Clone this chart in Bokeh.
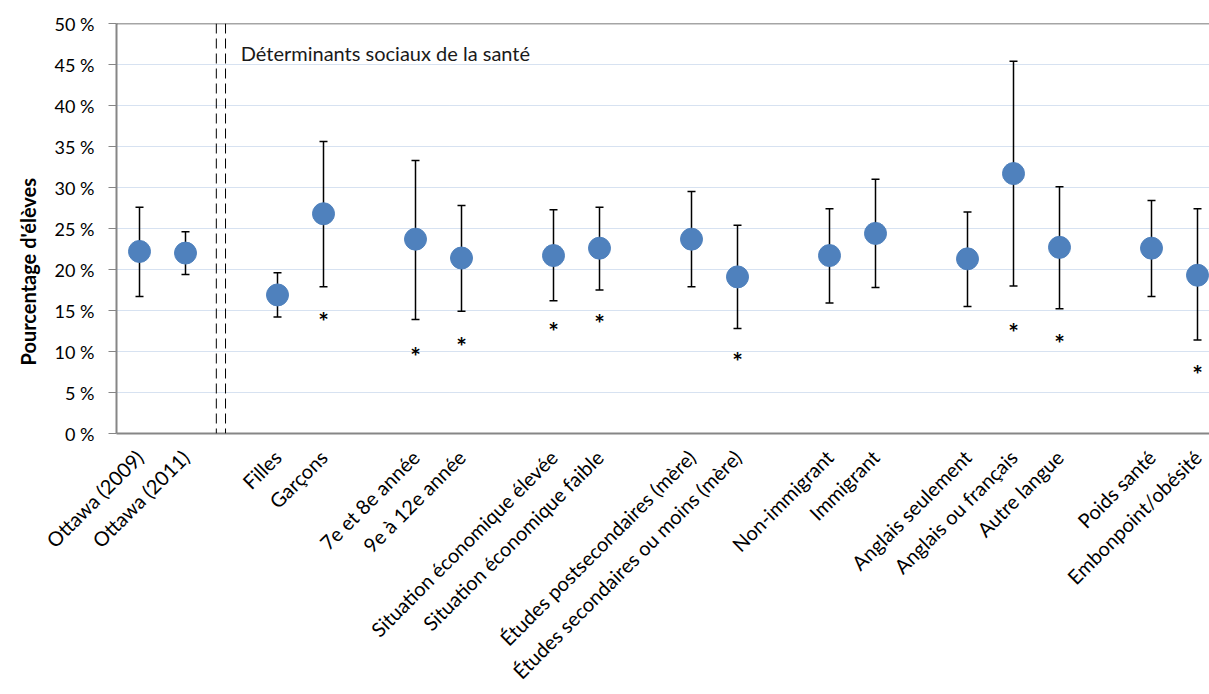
from math import pi
from bokeh.plotting import figure
from bokeh.models import (ColumnDataSource, Whisker, TeeHead, Span, FixedTicker,
                          PrintfTickFormatter, Label, Title)
from bokeh.embed import file_html
from bokeh.resources import INLINE
from bokeh.core.properties import value

# ---- data ----
groups = [
    ["Ottawa (2009)", "Ottawa (2011)"],
    ["Filles", "Garçons"],
    ["7e et 8e année", "9e à 12e année"],
    ["Situation économique élevée", "Situation économique faible"],
    ["Études postsecondaires (mère)", "Études secondaires ou moins (mère)"],
    ["Non-immigrant", "Immigrant"],
    ["Anglais seulement", "Anglais ou français", "Autre langue"],
    ["Poids santé", "Embonpoint/obésité"],
]
estimate = [22.2, 22.0, 16.9, 26.8, 23.7, 21.4, 21.7, 22.6, 23.7, 19.1,
            21.7, 24.4, 21.3, 31.7, 22.7, 22.6, 19.3]
upper = [27.6, 24.6, 19.6, 35.6, 33.3, 27.8, 27.3, 27.6, 29.5, 25.4,
         27.4, 31.0, 27.0, 45.4, 30.1, 28.4, 27.4]
lower = [16.7, 19.4, 14.2, 17.9, 13.9, 14.9, 16.2, 17.5, 17.9, 12.8,
         15.9, 17.8, 15.5, 18.0, 15.2, 16.7, 11.4]
star_y = [None, None, None, 14.6, 10.3, 11.5, 13.3, 14.3, None, 9.7,
          None, None, None, 13.2, 11.9, None, 8.1]
y_ticks = list(range(0, 51, 5))
section_title = "Déterminants sociaux de la santé"
y_title = "Pourcentage d'élèves"

# ---- layout constants ----
FONT = "Lato"
BLUE = "#4F81BD"
SLOT_PX = 46
FRAME_LEFT = 116
FRAME_W = 1093

# ---- slot positions: one empty slot between groups ----
names, xs = [], []
slot = 0
for g in groups:
    for n in g:
        names.append(n)
        xs.append(slot + 0.5)
        slot += 1
    slot += 1

p = figure(frame_width=FRAME_W, frame_height=410, x_range=(0, FRAME_W / SLOT_PX), y_range=(0, 50),
           output_backend="svg", toolbar_location=None,
           min_border_left=FRAME_LEFT, min_border_top=23, min_border_right=0, min_border_bottom=0)
p.outline_line_color = None
p.background_fill_color = "white"
p.border_fill_color = "white"

p.xgrid.visible = False
p.ygrid.grid_line_color = "#AFC5E3"
p.ygrid.grid_line_dash = "1 1"
p.ygrid.grid_line_width = 1
p.ygrid.ticker = FixedTicker(ticks=y_ticks)

# y axis
p.yaxis.ticker = FixedTicker(ticks=y_ticks)
p.yaxis.formatter = PrintfTickFormatter(format="%d %%")
p.yaxis.major_label_text_font = FONT
p.yaxis.major_label_text_font_size = "18px"
p.yaxis.major_label_text_color = "#000000"
p.yaxis.major_tick_out = 8
p.yaxis.major_tick_in = 0
p.yaxis.major_tick_line_color = "#868686"
p.yaxis.minor_tick_line_color = None
p.yaxis.axis_line_color = "#868686"
p.yaxis.axis_line_width = 2
p.yaxis.major_label_standoff = 14

# y title, placed like the original (lower than the frame centre)
yt = Title(text=y_title, align="left", offset=68, text_font=FONT, text_font_style="bold",
           text_font_size="20px", text_color="#000000", standoff=23)
p.add_layout(yt, "left")

# x axis (ticks invisible)
p.xaxis.ticker = FixedTicker(ticks=xs)
p.xaxis.major_label_overrides = {x: n for x, n in zip(xs, names)}
p.xaxis.major_label_orientation = pi / 4
p.xaxis.major_label_text_font = FONT
p.xaxis.major_label_text_font_size = "20px"
p.xaxis.major_label_text_color = "#000000"
p.xaxis.major_tick_line_color = None
p.xaxis.minor_tick_line_color = None
p.xaxis.axis_line_color = "#868686"
p.xaxis.axis_line_width = 2
p.xaxis.major_label_standoff = 14

# top border line at 50 %
p.add_layout(Span(location=50, dimension="width", line_color="#4D4D4D", line_width=1.5))

# double dashed separator
for loc in (2.17, 2.37):
    p.add_layout(Span(location=loc, dimension="height", line_color="#000000",
                      line_width=1, line_dash="10 5"))

source = ColumnDataSource(dict(x=xs, y=estimate, upper=upper, lower=lower))
w = Whisker(base="x", upper="upper", lower="lower", source=source,
            line_color="#000000", line_width=1.5,
            upper_head=TeeHead(size=8, line_color="#000000", line_width=1.5),
            lower_head=TeeHead(size=8, line_color="#000000", line_width=1.5))
p.add_layout(w)

p.scatter("x", "y", source=source, size=22, fill_color=BLUE, line_color=BLUE)

sx = [x for x, s in zip(xs, star_y) if s is not None]
sy = [s for s in star_y if s is not None]
p.text(x=sx, y=sy, text=["*"] * len(sx), text_font=value(FONT), text_font_size="25px",
       text_font_style="bold", text_align="center", text_baseline="middle",
       y_offset=7, text_color="#000000")

p.add_layout(Label(x=2.7, y=46.4, text=section_title, text_font=FONT,
                   text_font_size="20px", text_baseline="middle", text_color="#1a1a1a"))

open("out.html", "w").write(file_html(p, INLINE))
